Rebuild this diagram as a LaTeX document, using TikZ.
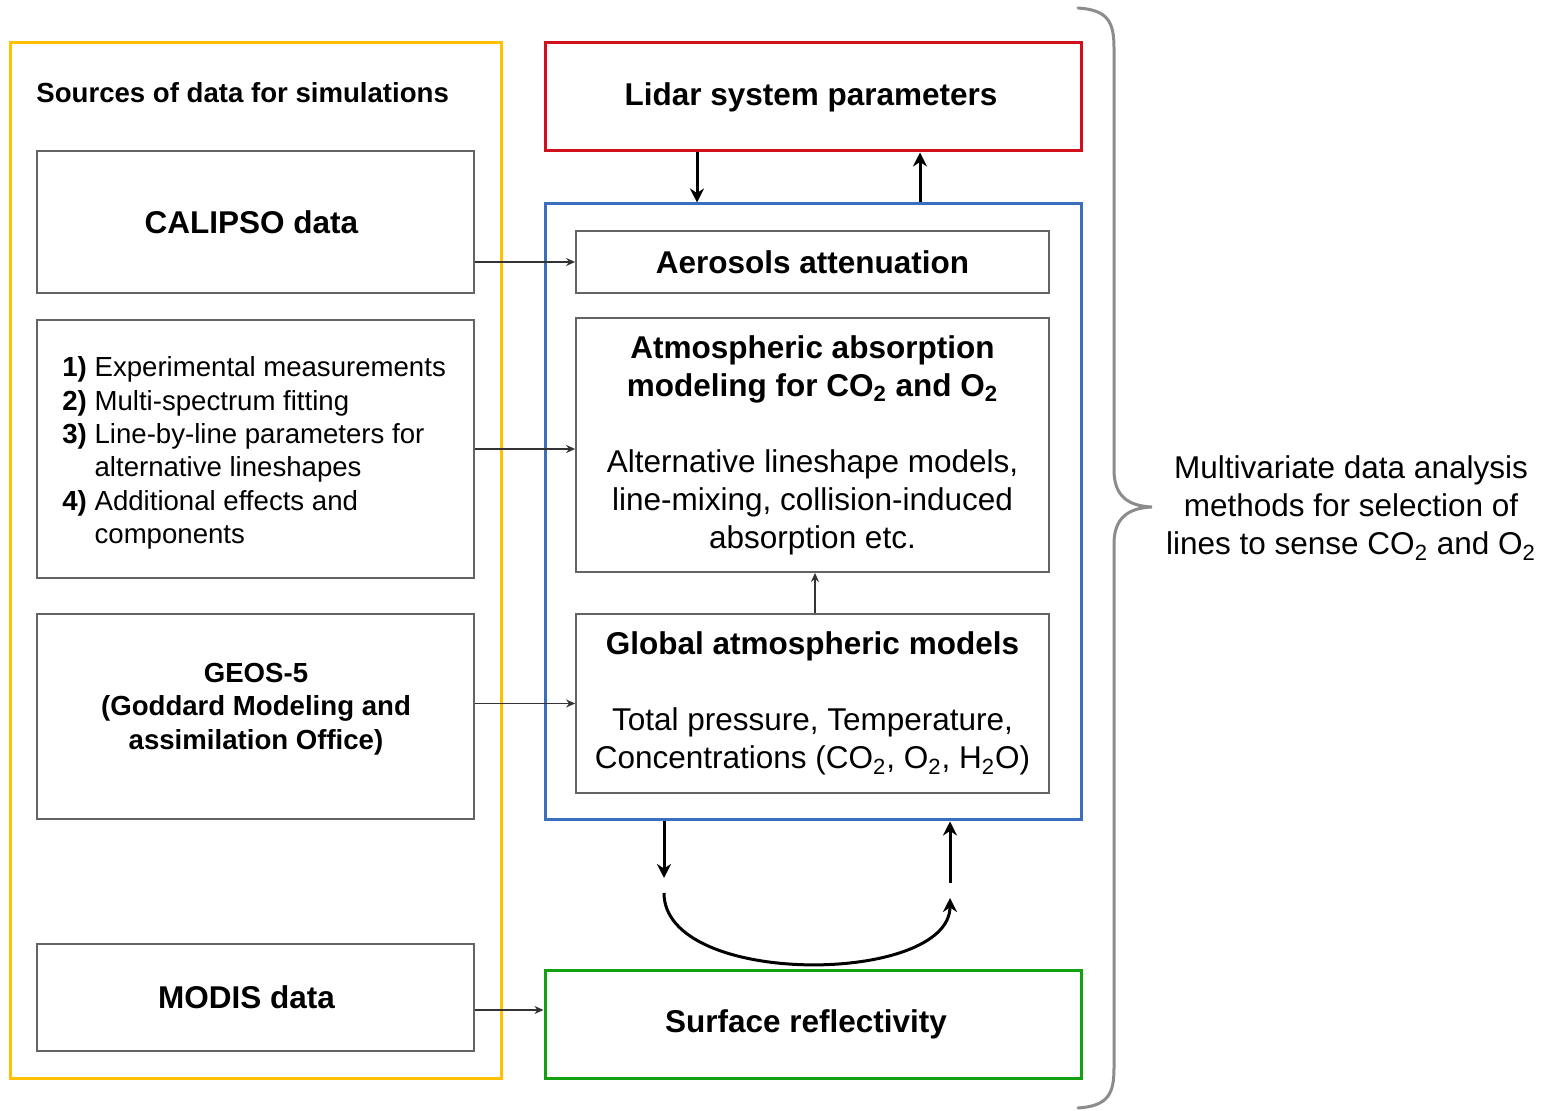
\documentclass[tikz,border=0pt]{standalone}
\usepackage{fontspec}
\setmainfont{Liberation Sans}
\usetikzlibrary{arrows.meta,calc}
\definecolor{cyel}{RGB}{255,192,0}
\definecolor{cred}{RGB}{208,16,26}
\definecolor{cblue}{RGB}{60,110,190}
\definecolor{cgreen}{RGB}{16,160,16}
\definecolor{cgray}{RGB}{100,100,100}
\definecolor{cbrace}{RGB}{140,140,140}
\tikzset{
  bigfont/.style={font=\fontsize{15.75}{19}\selectfont},
  smallfont/.style={font=\fontsize{13.8}{16.7}\selectfont},
  framebox/.style={draw, line width=1.5pt, inner sep=0pt},
  graybox/.style={draw=cgray, line width=0.9pt, inner sep=0pt, fill=none},
  thickarr/.style={line width=1.5pt, -{Stealth[length=7pt,width=7pt]}},
  thinarr/.style={draw=black!80, line width=0.7pt, -{Stealth[length=4.5pt,width=4pt]}},
}
\begin{document}
\begin{tikzpicture}[x=0.5pt,y=-0.5pt]
\useasboundingbox (0,0) rectangle (1548,1111);
\fill[white] (0,0) rectangle (1548,1111);

% outer frames
\node[framebox, draw=cyel, minimum width=245.5pt, minimum height=517.5pt] (src) at (255.5,560.5) {};
\node[framebox, draw=cred, minimum width=268pt, minimum height=54pt, bigfont] (lidar) at (813,97) {\bfseries Lidar system parameters\kern2pt};
\node[framebox, draw=cblue, minimum width=268pt, minimum height=308pt] (blue) at (813,512) {};
\node[framebox, draw=cgreen, minimum width=268pt, minimum height=54pt, bigfont] (surf) at (813,1024) {\bfseries Surface reflectivity\kern7pt};

% title of sources
\node[anchor=west, smallfont, inner sep=0pt] (srct) at (36,93) {\bfseries Sources of data for simulations};

% left boxes
\node[graybox, minimum width=218.5pt, minimum height=71pt, bigfont] (cal) at (255.5,222) {\bfseries CALIPSO data\kern4pt};
\node[graybox, minimum width=218.5pt, minimum height=129pt] (list) at (255.5,449) {};
\node[anchor=west, smallfont, align=left, inner sep=0pt] (listt) at (62,453) {%
\textbf{1)} Experimental measurements\\
\textbf{2)} Multi-spectrum fitting\\
\textbf{3)} Line-by-line parameters for\\
\hphantom{\textbf{3)} }alternative lineshapes\\
\textbf{4)} Additional effects and\\
\hphantom{\textbf{4)} }components};
\node[graybox, minimum width=218.5pt, minimum height=102.5pt] (geos) at (255.5,716.5) {};
\node[smallfont, align=center, inner sep=0pt] (geost) at (256,709) {\bfseries GEOS-5\\\bfseries (Goddard Modeling and\\\bfseries assimilation Office)};
\node[graybox, minimum width=218.5pt, minimum height=53.5pt, bigfont] (modis) at (255.5,997.5) {\bfseries MODIS data\kern9pt};

% inner boxes
\node[graybox, minimum width=236.5pt, minimum height=31pt, bigfont] (aer) at (812.5,262) {\bfseries Aerosols attenuation};
\node[graybox, minimum width=236.5pt, minimum height=127pt, bigfont, align=center] (atm) at (812.5,445) {%
\textbf{Atmospheric absorption}\\
\textbf{modeling for CO\textsubscript{2} and O\textsubscript{2}}\\[19pt]
Alternative lineshape models,\\
line-mixing, collision-induced\\
absorption etc.};
\node[graybox, minimum width=236.5pt, minimum height=89.5pt, bigfont, align=center] (glob) at (812.5,703.5) {%
\textbf{Global atmospheric models}\\[19pt]
Total pressure, Temperature,\\
Concentrations (CO\textsubscript{2}, O\textsubscript{2}, H\textsubscript{2}O)};

% brace and its text
\draw[cbrace, line width=1.5pt, line cap=round]
  (1078,8) .. controls (1108,10) and (1114,22) .. (1114,48)
  -- (1114,470) .. controls (1114,496) and (1128,506) .. (1152,507)
  .. controls (1128,508) and (1114,518) .. (1114,544)
  -- (1114,1068) .. controls (1114,1094) and (1108,1106) .. (1078,1108);
\node[bigfont, align=center] (multi) at (1351,508) {Multivariate data analysis\\methods for selection of\\lines to sense CO\textsubscript{2} and O\textsubscript{2}};

% thick arrows
\draw[thickarr] (lidar.south -| 697,0) -- (blue.north -| 697,0);
\draw[thickarr] (blue.north -| 920,0) -- (lidar.south -| 920,0);
\coordinate (dnend) at (664,878);
\coordinate (cstart) at (664,893);
\coordinate (cend) at (950,898);
\coordinate (upstart) at (950,883);
\draw[thickarr] (blue.south -| 664,0) -- (dnend);
\draw[thickarr] (cstart) .. controls (664,988) and (950,985) .. (cend);
\draw[thickarr] (upstart) -- (blue.south -| 950,0);

% thin arrows
\draw[thinarr] (aer.west -| cal.east) -- (aer.west);
\draw[thinarr] (list.east) -- (list.east -| atm.west);
\draw[thinarr] (glob.west -| geos.east) -- (glob.west);
\draw[thinarr] (modis.east |- 0,1010) -- (surf.west |- 0,1010);
\draw[thinarr] (glob.north -| 815,0) -- (atm.south -| 815,0);
\end{tikzpicture}
\end{document}
